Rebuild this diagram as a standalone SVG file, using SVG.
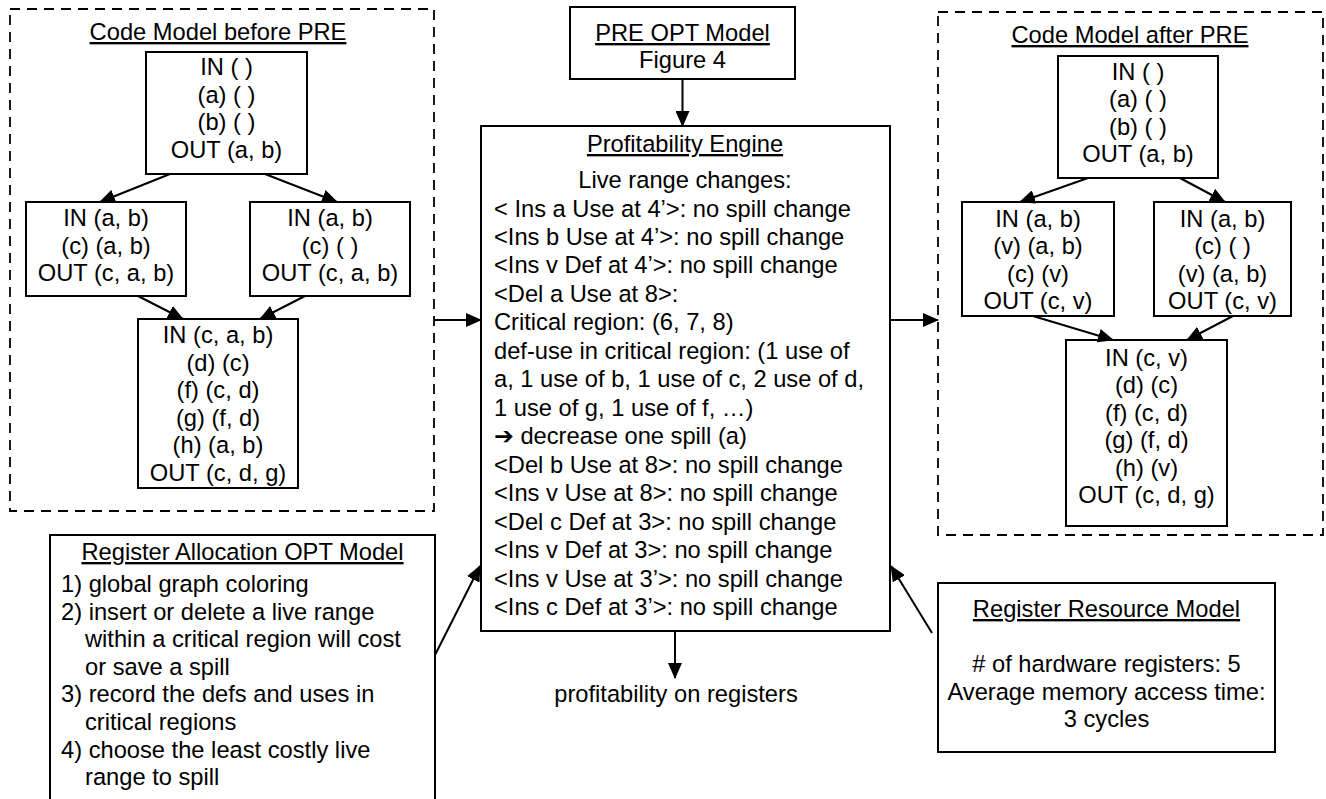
<svg xmlns="http://www.w3.org/2000/svg" width="1326" height="799" viewBox="0 0 1326 799">
<style>
text{font-family:"Liberation Sans",Arial,"DejaVu Sans",sans-serif;font-size:23.7px;fill:#000}
.c{text-anchor:middle}
.u{text-decoration:underline}
.box{fill:#fff;stroke:#000;stroke-width:2}
.dash{fill:none;stroke:#000;stroke-width:1.8;stroke-dasharray:10,7}
.ln{stroke:#000;stroke-width:2;fill:none;marker-end:url(#ah)}
</style>
<defs>
<marker id="ah" markerUnits="userSpaceOnUse" viewBox="0 0 16 14" markerWidth="16" markerHeight="14" refX="15" refY="7" orient="auto">
<path d="M0,0 L16,7 L0,14 z" fill="#000"/>
</marker>
</defs>
<rect width="1326" height="799" fill="#fff"/>

<g id="before-pre">
<rect class="dash" x="10" y="9" width="424" height="502"/>
<text class="c u" x="218" y="40">Code Model before PRE</text>
</g>
<g id="b-top">
<rect class="box" x="146" y="52" width="161" height="122"/>
<text class="c" x="226.5" y="75">IN ( )</text>
<text class="c" x="226.5" y="102.5">(a) ( )</text>
<text class="c" x="226.5" y="130">(b) ( )</text>
<text class="c" x="226.5" y="157.5">OUT (a, b)</text>
</g>
<g id="b-left">
<rect class="box" x="26" y="202" width="160" height="94"/>
<text class="c" x="106" y="226">IN (a, b)</text>
<text class="c" x="106" y="253.5">(c) (a, b)</text>
<text class="c" x="106" y="281">OUT (c, a, b)</text>
</g>
<g id="b-right">
<rect class="box" x="250" y="202" width="160" height="94"/>
<text class="c" x="330" y="226">IN (a, b)</text>
<text class="c" x="330" y="253.5">(c) ( )</text>
<text class="c" x="330" y="281">OUT (c, a, b)</text>
</g>
<g id="b-bottom">
<rect class="box" x="138" y="319" width="160" height="169"/>
<text class="c" x="218" y="343">IN (c, a, b)</text>
<text class="c" x="218" y="370.5">(d) (c)</text>
<text class="c" x="218" y="398">(f) (c, d)</text>
<text class="c" x="218" y="425.5">(g) (f, d)</text>
<text class="c" x="218" y="453">(h) (a, b)</text>
<text class="c" x="218" y="480.5">OUT (c, d, g)</text>
</g>

<g id="after-pre">
<rect class="dash" x="938" y="12" width="385" height="523"/>
<text class="c u" x="1130" y="43">Code Model after PRE</text>
</g>
<g id="a-top">
<rect class="box" x="1058" y="56" width="160" height="122"/>
<text class="c" x="1138" y="79.5">IN ( )</text>
<text class="c" x="1138" y="107">(a) ( )</text>
<text class="c" x="1138" y="134.5">(b) ( )</text>
<text class="c" x="1138" y="162">OUT (a, b)</text>
</g>
<g id="a-left">
<rect class="box" x="962" y="202" width="152" height="114"/>
<text class="c" x="1038" y="226.5">IN (a, b)</text>
<text class="c" x="1038" y="254">(v) (a, b)</text>
<text class="c" x="1038" y="281.5">(c) (v)</text>
<text class="c" x="1038" y="309">OUT (c, v)</text>
</g>
<g id="a-right">
<rect class="box" x="1154" y="202" width="137" height="114"/>
<text class="c" x="1222.5" y="226.5">IN (a, b)</text>
<text class="c" x="1222.5" y="254">(c) ( )</text>
<text class="c" x="1222.5" y="281.5">(v) (a, b)</text>
<text class="c" x="1222.5" y="309">OUT (c, v)</text>
</g>
<g id="a-bottom">
<rect class="box" x="1066" y="340" width="161" height="186"/>
<text class="c" x="1146.5" y="365.5">IN (c, v)</text>
<text class="c" x="1146.5" y="393">(d) (c)</text>
<text class="c" x="1146.5" y="420.5">(f) (c, d)</text>
<text class="c" x="1146.5" y="448">(g) (f, d)</text>
<text class="c" x="1146.5" y="475.5">(h) (v)</text>
<text class="c" x="1146.5" y="503">OUT (c, d, g)</text>
</g>

<g id="pre-opt">
<rect class="box" x="570" y="7" width="225" height="72"/>
<text class="c u" x="682.5" y="41">PRE OPT Model</text>
<text class="c" x="682.5" y="68">Figure 4</text>
</g>

<g id="engine">
<rect class="box" x="481" y="126" width="409" height="505"/>
<text class="c u" x="685" y="152">Profitability Engine</text>
<text class="c" x="685" y="188">Live range changes:</text>
<text x="494" y="216.5">&lt; Ins a Use at 4’&gt;: no spill change</text>
<text x="494" y="245">&lt;Ins b Use at 4’&gt;: no spill change</text>
<text x="494" y="273.4">&lt;Ins v Def at 4’&gt;: no spill change</text>
<text x="494" y="301.9">&lt;Del a Use at 8&gt;:</text>
<text x="494" y="330.4">Critical region: (6, 7, 8)</text>
<text x="494" y="358.8">def-use in critical region: (1 use of</text>
<text x="494" y="387.3">a, 1 use of b, 1 use of c, 2 use of d,</text>
<text x="494" y="415.8">1 use of g, 1 use of f, …)</text>
<text x="494" y="444.2">➔ decrease one spill (a)</text>
<text x="494" y="472.7">&lt;Del b Use at 8&gt;: no spill change</text>
<text x="494" y="501.2">&lt;Ins v Use at 8&gt;: no spill change</text>
<text x="494" y="529.6">&lt;Del c Def at 3&gt;: no spill change</text>
<text x="494" y="558.1">&lt;Ins v Def at 3&gt;: no spill change</text>
<text x="494" y="586.6">&lt;Ins v Use at 3’&gt;: no spill change</text>
<text x="494" y="615">&lt;Ins c Def at 3’&gt;: no spill change</text>
</g>

<g id="result">
<text class="c" x="676" y="702">profitability on registers</text>
</g>

<g id="reg-alloc">
<rect class="box" x="50" y="535" width="385" height="280"/>
<text class="c u" x="242.5" y="560">Register Allocation OPT Model</text>
<text x="61" y="592">1) global graph coloring</text>
<text x="61" y="619.6">2) insert or delete a live range</text>
<text x="85" y="647.2">within a critical region will cost</text>
<text x="85" y="674.8">or save a spill</text>
<text x="61" y="702.4">3) record the defs and uses in</text>
<text x="85" y="730">critical regions</text>
<text x="61" y="757.6">4) choose the least costly live</text>
<text x="85" y="785.2">range to spill</text>
</g>

<g id="reg-resource">
<rect class="box" x="938" y="583" width="337" height="169"/>
<text class="c u" x="1106.5" y="617">Register Resource Model</text>
<text class="c" x="1106.5" y="672">#  of hardware registers: 5</text>
<text class="c" x="1106.5" y="699.5">Average memory access time:</text>
<text class="c" x="1106.5" y="727">3 cycles</text>
</g>

<g id="connectors">
<line class="ln" x1="170" y1="174" x2="100" y2="202"/>
<line class="ln" x1="265" y1="174" x2="337" y2="202"/>
<line class="ln" x1="138" y1="296" x2="183" y2="319"/>
<line class="ln" x1="305" y1="296" x2="260" y2="319"/>
<line class="ln" x1="1088" y1="178" x2="1020" y2="202"/>
<line class="ln" x1="1180" y1="178" x2="1225" y2="202"/>
<line class="ln" x1="1033" y1="316" x2="1113" y2="340"/>
<line class="ln" x1="1233" y1="316" x2="1187" y2="340"/>
<line class="ln" x1="682.5" y1="79" x2="682.5" y2="126"/>
<line class="ln" x1="675" y1="631" x2="675" y2="678"/>
<line class="ln" x1="434" y1="320" x2="481" y2="320"/>
<line class="ln" x1="890" y1="320" x2="938" y2="320"/>
<line class="ln" x1="435" y1="655" x2="480" y2="566"/>
<line class="ln" x1="932" y1="633" x2="891" y2="566"/>
</g>
</svg>
